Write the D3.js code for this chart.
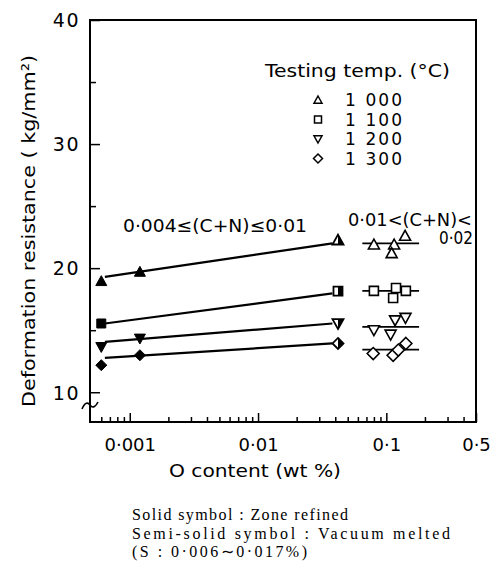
<!DOCTYPE html>
<html><head><meta charset="utf-8">
<script src="https://cdn.jsdelivr.net/npm/d3@7"></script>
<style>body{margin:0;background:#fff}svg{display:block}</style>
</head><body>
<svg id="chart" width="502" height="573"></svg>
<script>
// Testing temperatures and their marker shapes
const temps = ["1 000", "1 100", "1 200", "1 300"];
const shapes = ["up", "square", "down", "diamond"];

// Zone refined, 0.004 <= (C+N) <= 0.01 (solid symbols)
const zoneO = [[0.0006, 0.0012], [0.0006], [0.0006, 0.0012], [0.0006, 0.0012]];
const zoneR = [[18.95, 19.7], [15.54], [13.65, 14.33], [12.18, 12.98]];

// Vacuum melted (semi-solid symbols)
const vacO = [0.042, 0.042, 0.042, 0.042];
const vacR = [22.26, 18.15, 15.54, 13.93];

// Fitted lines through the low (C+N) data
const fitO = [0.00064, 0.038];
const fitStart = [19.3, 15.54, 14.06, 12.77];
const fitEnd = [22.0, 17.96, 15.54, 13.93];

// 0.01 < (C+N) < 0.02 (open symbols) and their mean levels
const openO = [[0.08, 0.115, 0.14, 0.11], [0.08, 0.119, 0.142, 0.113],
               [0.08, 0.117, 0.141, 0.108], [0.079, 0.113, 0.124, 0.142]];
const openR = [[21.9, 21.9, 22.6, 21.2], [18.17, 18.4, 18.17, 17.6],
               [15.0, 15.8, 16.0, 14.65], [13.12, 12.98, 13.4, 13.93]];
const meanO = [0.065, 0.18];
const meanR = [22.0, 18.17, 15.27, 13.44];

// Axis ticks
const yMajor = [10, 20, 30, 40];
const yMinor = [15, 25, 35];
const xMajor = [0.001, 0.01, 0.1, 0.5];
const xLabels = ["0·001", "0·01", "0·1", "0·5"];
const xMinor = [0.0006, 0.0007, 0.0008, 0.0009,
                0.002, 0.003, 0.004, 0.005, 0.006, 0.007, 0.008, 0.009,
                0.02, 0.03, 0.04, 0.05, 0.06, 0.07, 0.08, 0.09,
                0.2, 0.3, 0.4];

const svg = d3.select("#chart");
const L = 90, R = 476, T = 20, B = 422;
const x = d3.scaleLog().domain([0.00049, 0.5]).range([L, R]);
const y = d3.scaleLinear().domain([7.6, 40]).range([B, T]);
const sans = "'DejaVu Sans', sans-serif";

// marker outline paths centred on 0,0
function shapePath(s, r) {
  if (s === "up") return `M0,${-r}L${r},${0.8*r}L${-r},${0.8*r}Z`;
  if (s === "down") return `M0,${r}L${r},${-0.8*r}L${-r},${-0.8*r}Z`;
  if (s === "square") return `M${-r},${-r}H${r}V${r}H${-r}Z`;
  return `M0,${-r}L${r},0L0,${r}L${-r},0Z`;
}
function rightHalf(s, r) {
  if (s === "up") return `M0,${-r}L${r},${0.8*r}L0,${0.8*r}Z`;
  if (s === "down") return `M0,${r}L${r},${-0.8*r}L0,${-0.8*r}Z`;
  if (s === "square") return `M0,${-r}H${r}V${r}H0Z`;
  return `M0,${-r}L${r},0L0,${r}Z`;
}
const rSolid = {up: 5.5, down: 5.5, square: 4.5, diamond: 5.5};
const rOpen = {up: 5.5, down: 5.5, square: 4.5, diamond: 6};

// frame
svg.append("rect").attr("x", L).attr("y", T).attr("width", R - L).attr("height", B - T)
  .attr("fill", "none").attr("stroke", "#000").attr("stroke-width", 2);

// left axis, ticks pointing inward
const gy = svg.append("g").attr("transform", `translate(${L},0)`)
  .call(d3.axisLeft(y).tickValues(yMajor).tickSize(-10).tickPadding(20).tickFormat(d3.format("d")));
gy.select(".domain").remove();
gy.selectAll("line").attr("stroke-width", 1.5);
gy.selectAll("text").attr("font-family", sans).attr("font-size", 19).attr("letter-spacing", 1.5)
  .attr("dy", "0.36em").attr("x", -10);
const gym = svg.append("g").attr("transform", `translate(${L},0)`)
  .call(d3.axisLeft(y).tickValues(yMinor).tickSize(-6).tickFormat(""));
gym.select(".domain").remove();
gym.selectAll("line").attr("stroke-width", 1.5);

// bottom axis, ticks pointing inward
const gx = svg.append("g").attr("transform", `translate(0,${B})`)
  .call(d3.axisBottom(x).tickValues(xMajor).tickSize(-9).tickPadding(16)
    .tickFormat((d, i) => xLabels[i]));
gx.select(".domain").remove();
gx.selectAll("line").attr("stroke-width", 1.5);
gx.selectAll("text").attr("font-family", sans).attr("font-size", 18).attr("dy", "0.71em");
const gxm = svg.append("g").attr("transform", `translate(0,${B})`)
  .call(d3.axisBottom(x).tickValues(xMinor).tickSize(-5).tickFormat(""));
gxm.select(".domain").remove();
gxm.selectAll("line").attr("stroke-width", 1.5);

// axis break mark near the bottom of the value axis
svg.append("path").attr("d", `M82,409 C85,402 88,402 90,405 C92,408 95,408 98,402`)
  .attr("fill", "none").attr("stroke", "#000").attr("stroke-width", 1.6);

// axis titles
svg.append("text").attr("transform", "translate(35,231) rotate(-90)")
  .attr("text-anchor", "middle").attr("font-family", sans).attr("font-size", 18)
  .attr("textLength", 352).attr("lengthAdjust", "spacingAndGlyphs")
  .text("Deformation resistance ( kg/mm²)");
svg.append("text").attr("x", 255).attr("y", 477).attr("text-anchor", "middle")
  .attr("font-family", sans).attr("font-size", 18).attr("textLength", 172)
  .attr("lengthAdjust", "spacingAndGlyphs").text("O content (wt %)");

// fitted lines
temps.forEach((t, i) => {
  svg.append("line")
    .attr("x1", x(fitO[0])).attr("y1", y(fitStart[i]))
    .attr("x2", x(fitO[1])).attr("y2", y(fitEnd[i]))
    .attr("stroke", "#000").attr("stroke-width", 2.2);
  svg.append("line")
    .attr("x1", x(meanO[0])).attr("y1", y(meanR[i]))
    .attr("x2", x(meanO[1])).attr("y2", y(meanR[i]))
    .attr("stroke", "#000").attr("stroke-width", 1.8);
});

// markers
temps.forEach((t, i) => {
  const s = shapes[i];
  zoneO[i].forEach((o, j) => {
    svg.append("path").attr("d", shapePath(s, rSolid[s]))
      .attr("transform", `translate(${x(o)},${y(zoneR[i][j])})`)
      .attr("fill", "#000").attr("stroke", "#000").attr("stroke-width", 1);
  });
  const g = svg.append("g").attr("transform", `translate(${x(vacO[i])},${y(vacR[i])})`);
  g.append("path").attr("d", shapePath(s, rSolid[s])).attr("fill", "#fff")
    .attr("stroke", "#000").attr("stroke-width", 1.8);
  g.append("path").attr("d", rightHalf(s, rSolid[s])).attr("fill", "#000");
  openO[i].forEach((o, j) => {
    svg.append("path").attr("d", shapePath(s, rOpen[s]))
      .attr("transform", `translate(${x(o)},${y(openR[i][j])})`)
      .attr("fill", "#fff").attr("stroke", "#000").attr("stroke-width", 1.6);
  });
});

// group annotations
svg.append("text").attr("x", 123).attr("y", 232).attr("font-family", sans).attr("font-size", 18)
  .attr("textLength", 184).attr("lengthAdjust", "spacingAndGlyphs").text("0·004≤(C+N)≤0·01");
svg.append("text").attr("x", 348).attr("y", 226).attr("font-family", sans).attr("font-size", 17)
  .attr("textLength", 124).attr("lengthAdjust", "spacingAndGlyphs").text("0·01<(C+N)<");
svg.append("text").attr("x", 439).attr("y", 244).attr("font-family", sans).attr("font-size", 17)
  .attr("textLength", 34).attr("lengthAdjust", "spacingAndGlyphs").text("0·02");

// legend
svg.append("text").attr("x", 265).attr("y", 77).attr("font-family", sans).attr("font-size", 18)
  .attr("textLength", 185).attr("lengthAdjust", "spacingAndGlyphs").text("Testing  temp. (°C)");
const legR = {up: 4, down: 4, square: 3.5, diamond: 4.5};
temps.forEach((t, i) => {
  const cy = 99 + i * 19.5;
  svg.append("path").attr("d", shapePath(shapes[i], legR[shapes[i]]))
    .attr("transform", `translate(318,${cy + 1})`)
    .attr("fill", "#fff").attr("stroke", "#000").attr("stroke-width", 1.5);
  svg.append("text").attr("x", 345).attr("y", cy + 7).attr("font-family", sans)
    .attr("font-size", 17).attr("textLength", 57).attr("lengthAdjust", "spacing").text(t);
});

// footnote
const serif = "'Liberation Serif', 'Times New Roman', serif";
const notes = ["Solid symbol : Zone refined", "Semi-solid symbol : Vacuum melted", "(S : 0·006∼0·017%)"];
const noteW = [216, 318, 175];
notes.forEach((n, i) => {
  svg.append("text").attr("x", 132).attr("y", 520 + i * 18.5).attr("font-family", serif)
    .attr("font-size", 16).attr("textLength", noteW[i]).attr("lengthAdjust", "spacing").text(n);
});
</script>
</body></html>
